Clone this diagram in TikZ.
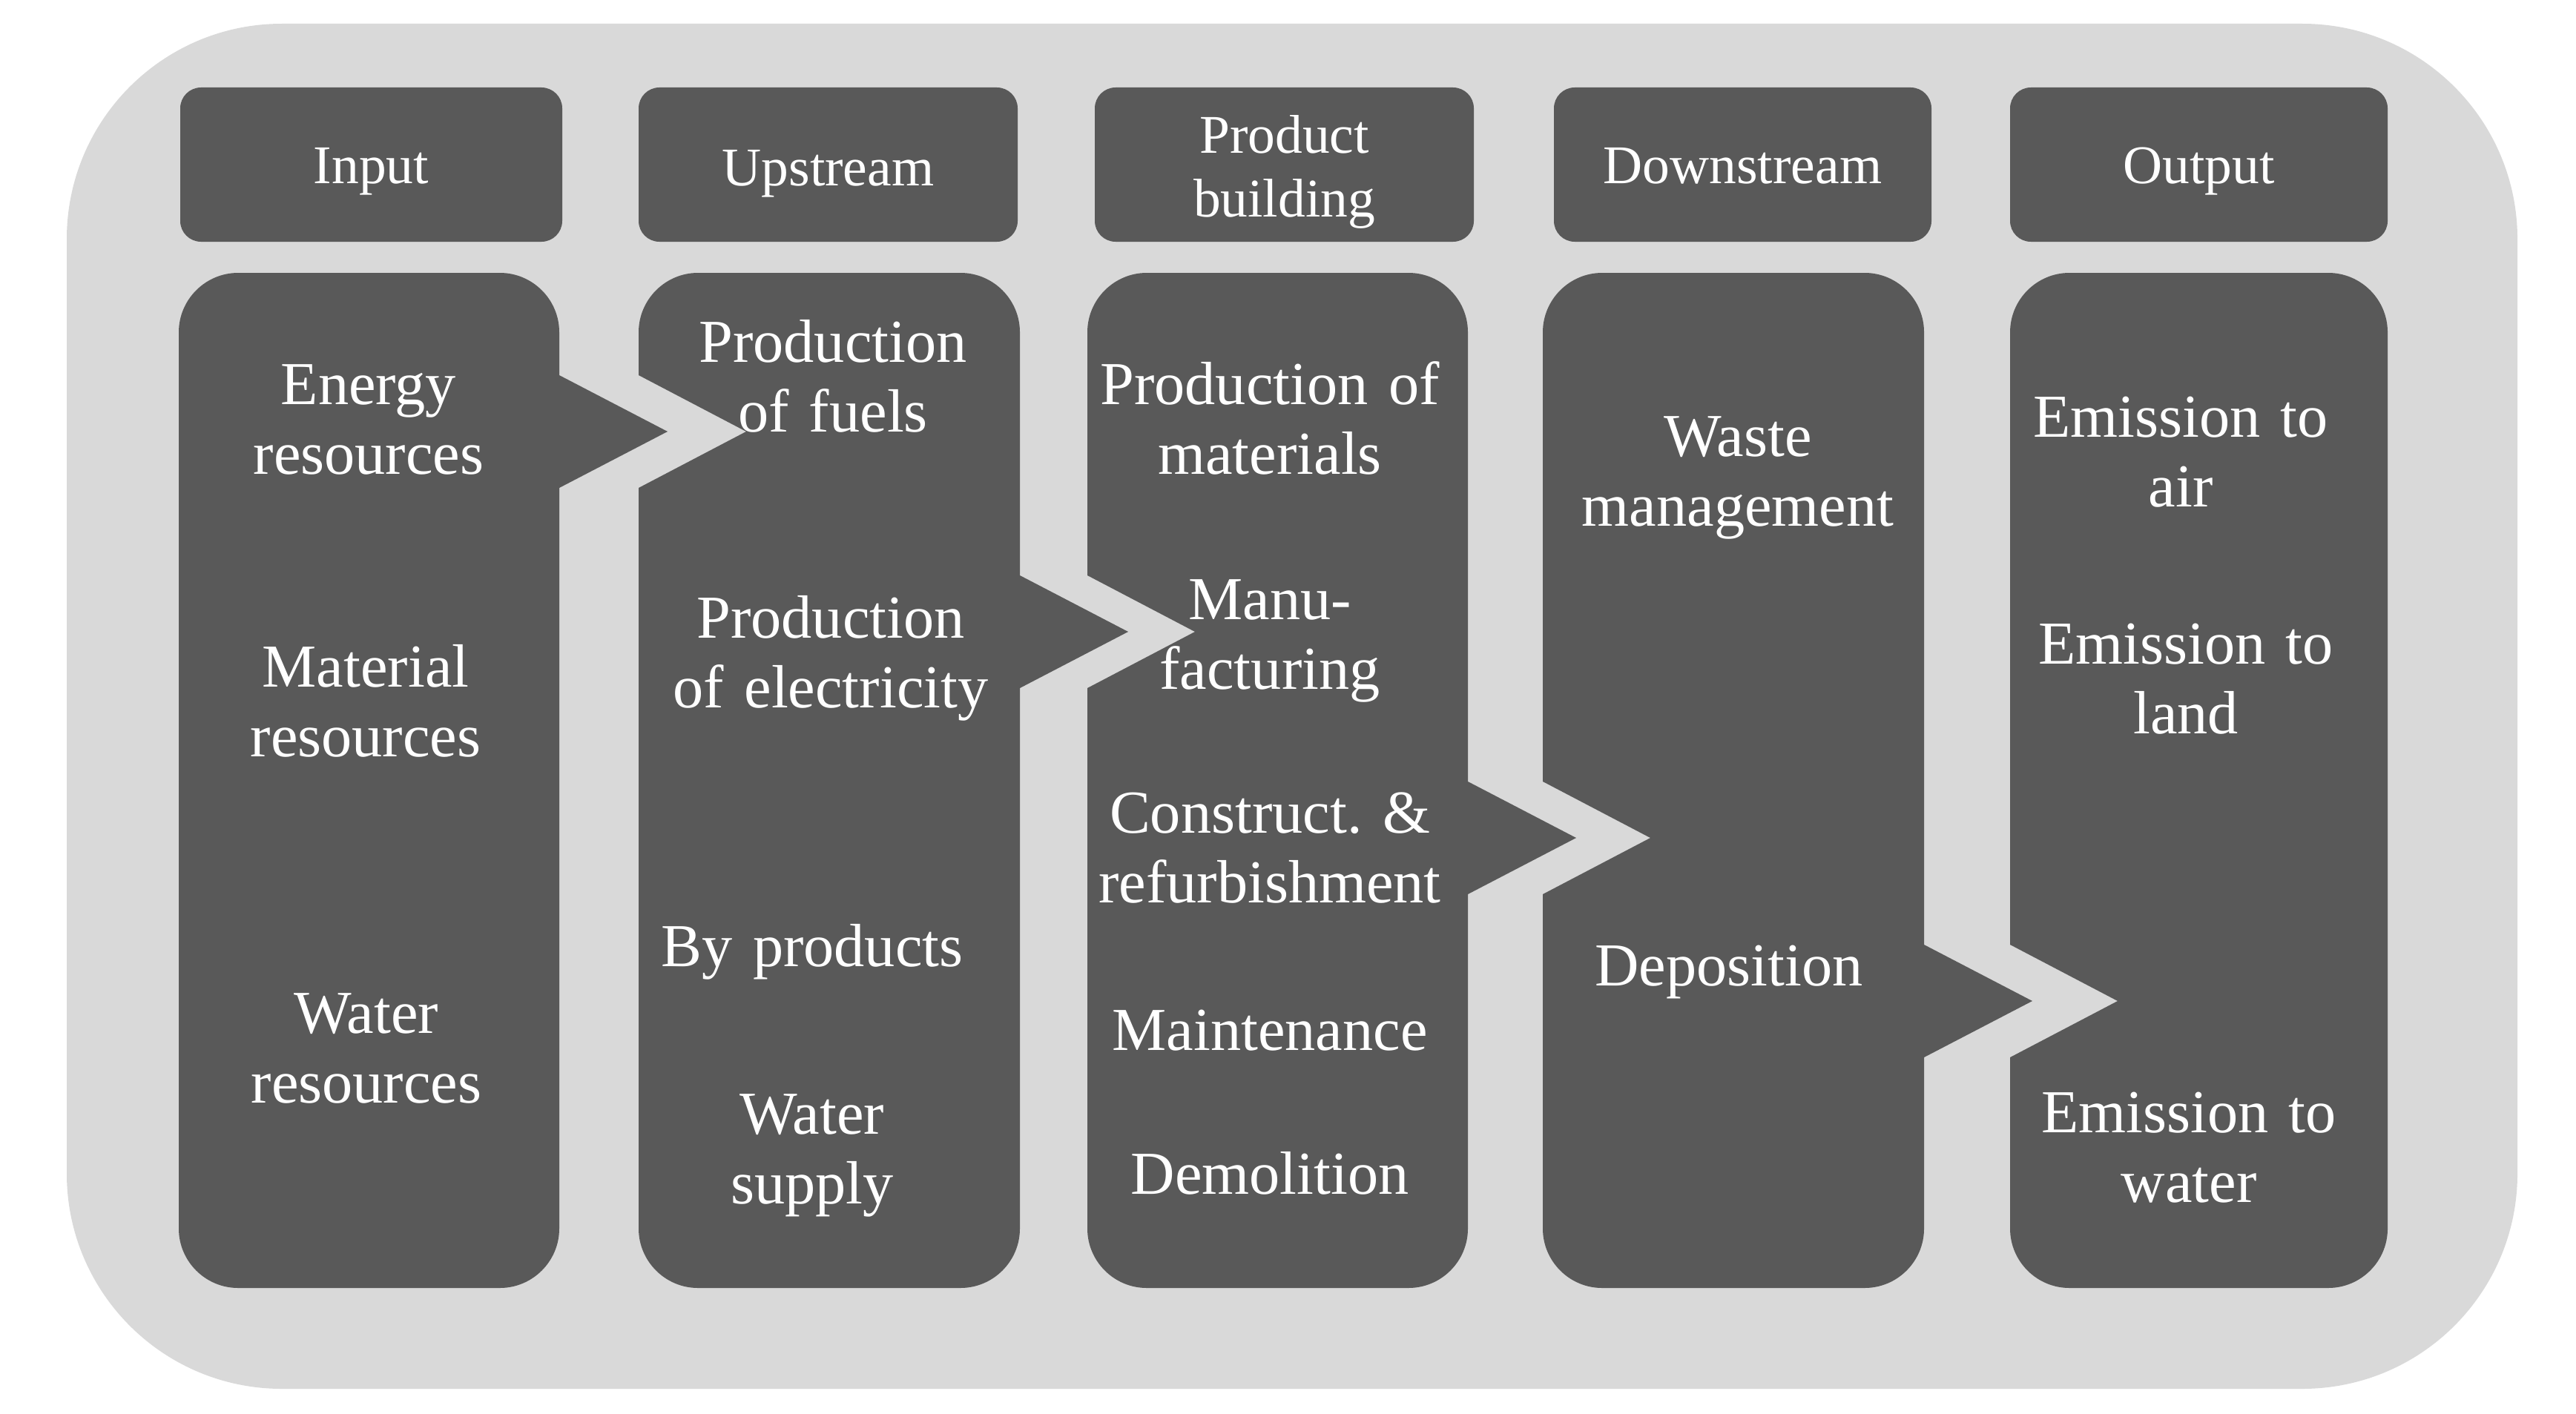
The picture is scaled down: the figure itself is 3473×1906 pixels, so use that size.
\documentclass[tikz,border=0pt]{standalone}
\usepackage{fontspec}
\setmainfont{Liberation Serif}
\frenchspacing
\definecolor{bgl}{HTML}{D9D9D9}
\definecolor{dk}{HTML}{595959}
\begin{document}
\begin{tikzpicture}[x=0.01cm,y=-0.01cm,
  col/.style={fill=dk},
  hdrbox/.style={fill=dk, rounded corners=0.28cm},
  hdr/.style={text=white, font=\fontsize{20.9}{24.7}\selectfont, align=center, text width=5cm, inner sep=0pt, anchor=base},
  body/.style={text=white, font=\fontsize{23.4}{27}\selectfont, align=center, text width=5cm, inner sep=0pt, anchor=base}]
\useasboundingbox (0,0) rectangle (3473,1906);
\fill[bgl, rounded corners=2.9cm] (90,32) rectangle (3394,1873);
% header boxes
\fill[hdrbox] (243,118) rectangle (758,326);
\fill[hdrbox] (861,118) rectangle (1372,326);
\fill[hdrbox] (1476,118) rectangle (1987,326);
\fill[hdrbox] (2095,118) rectangle (2604,326);
\fill[hdrbox] (2710,118) rectangle (3219,326);
% columns
\fill[col] (321,368) -- (674,368) .. controls (718,368) and (754,404) .. (754,448) -- (754,506) -- (900,582) -- (754,658) -- (754,1657) .. controls (754,1701) and (718,1737) .. (674,1737) -- (321,1737) .. controls (277,1737) and (241,1701) .. (241,1657) -- (241,448) .. controls (241,404) and (277,368) .. (321,368) -- cycle;
\fill[col] (941,368) -- (1295,368) .. controls (1339,368) and (1375,404) .. (1375,448) -- (1375,776) -- (1521,852) -- (1375,928) -- (1375,1657) .. controls (1375,1701) and (1339,1737) .. (1295,1737) -- (941,1737) .. controls (897,1737) and (861,1701) .. (861,1657) -- (861,658) -- (1006,582) -- (861,506) -- (861,448) .. controls (861,404) and (897,368) .. (941,368) -- cycle;
\fill[col] (1546,368) -- (1899,368) .. controls (1943,368) and (1979,404) .. (1979,448) -- (1979,1054) -- (2125,1130) -- (1979,1206) -- (1979,1657) .. controls (1979,1701) and (1943,1737) .. (1899,1737) -- (1546,1737) .. controls (1502,1737) and (1466,1701) .. (1466,1657) -- (1466,928) -- (1611,852) -- (1466,776) -- (1466,448) .. controls (1466,404) and (1502,368) .. (1546,368) -- cycle;
\fill[col] (2160,368) -- (2514,368) .. controls (2558,368) and (2594,404) .. (2594,448) -- (2594,1274) -- (2740,1350) -- (2594,1426) -- (2594,1657) .. controls (2594,1701) and (2558,1737) .. (2514,1737) -- (2160,1737) .. controls (2116,1737) and (2080,1701) .. (2080,1657) -- (2080,1206) -- (2225,1130) -- (2080,1054) -- (2080,448) .. controls (2080,404) and (2116,368) .. (2160,368) -- cycle;
\fill[col] (2790,368) -- (3139,368) .. controls (3183,368) and (3219,404) .. (3219,448) -- (3219,1657) .. controls (3219,1701) and (3183,1737) .. (3139,1737) -- (2790,1737) .. controls (2746,1737) and (2710,1701) .. (2710,1657) -- (2710,1426) -- (2855,1350) -- (2710,1274) -- (2710,448) .. controls (2710,404) and (2746,368) .. (2790,368) -- cycle;
% header texts
\node[hdr] (h-input) at (500.5,248) {Input};
\node[hdr] (h-up) at (1116.5,250) {Upstream};
\node[hdr] (h-prod) at (1731.5,206) {Product\\building};
\node[hdr] (h-down) at (2349.5,248) {Downstream};
\node[hdr] (h-out) at (2964.5,248) {Output};
% input column
\node[body] (t-energy) at (497,545) {Energy\\resources};
\node[body] (t-material) at (493,926) {Material\\resources};
\node[body] (t-water) at (494,1393) {Water\\resources};
% upstream column
\node[body] (t-fuels) at (1123,488) {Production\\of fuels};
\node[body] (t-elec) at (1120,860) {Production\\of electricity};
\node[body] (t-by) at (1095,1303) {By products};
\node[body] (t-supply) at (1095,1529) {Water\\supply};
% product building column
\node[body] (t-mat) at (1712,545) {Production of\\materials};
\node[body] (t-manu) at (1712,835) {Manu-\\facturing};
\node[body] (t-constr) at (1712,1123) {Construct. \&\\refurbishment};
\node[body] (t-maint) at (1712,1416) {Maintenance};
\node[body] (t-demol) at (1712,1610) {Demolition};
% downstream column
\node[body] (t-waste) at (2343,615) {Waste\\management};
\node[body] (t-depo) at (2331,1329) {Deposition};
% output column
\node[body] (t-air) at (2940,589) {Emission to\\air};
\node[body] (t-land) at (2947,895) {Emission to\\land};
\node[body] (t-h2o) at (2951,1527) {Emission to\\water};
\end{tikzpicture}
\end{document}
